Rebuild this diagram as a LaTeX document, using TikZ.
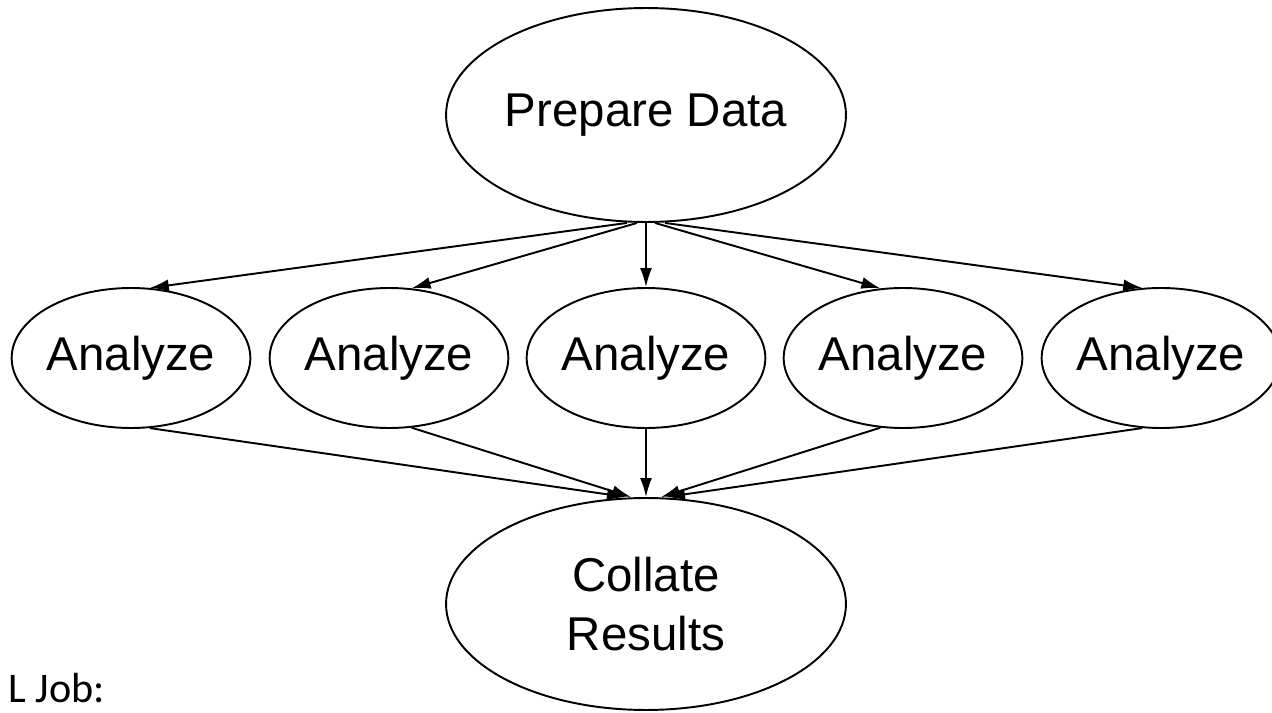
\documentclass[tikz,border=0pt]{standalone}
\usepackage{fontspec}
\setmainfont{Liberation Sans}
\newfontfamily\calibri{Carlito}
\usetikzlibrary{shapes.geometric,arrows.meta}

\begin{document}
\begin{tikzpicture}[x=0.02cm,y=-0.02cm]
\tikzstyle{fleche}=[-{Latex[length=0.38cm,width=0.24cm]},line width=1.1pt]
\tikzset{tache/.style={draw,ellipse,line width=1.1pt,inner sep=0pt,
  font=\fontsize{27}{34}\selectfont,align=center,minimum width=#1},
tache/.default={4.76cm}}
\useasboundingbox (0,0) rectangle (1272,713);

\node[tache=8cm,minimum height=4.28cm] (P) at (646,115) {Prepare Data};
\node[tache,minimum height=2.8cm] (A1) at (131,358) {Analyze};
\node[tache,minimum height=2.8cm] (A2) at (389,358) {Analyze};
\node[tache,minimum height=2.8cm] (A3) at (646,358) {Analyze};
\node[tache,minimum height=2.8cm] (A4) at (903,358) {Analyze};
\node[tache,minimum height=2.8cm] (A5) at (1161,358) {Analyze};
\node[tache=8cm,minimum height=4.24cm] (C) at (646,604) {Collate\\Results};

\draw[fleche] ([xshift=-0.38cm]P.south) -- (A1.75);
\draw[fleche] ([xshift=-0.18cm]P.south) -- (A2.72);
\draw[fleche] (P.south) -- (A3.north);
\draw[fleche] ([xshift=0.18cm]P.south) -- (A4.108);
\draw[fleche] ([xshift=0.38cm]P.south) -- (A5.105);

\draw[fleche] (A1.-75) -- ([xshift=-0.4cm]C.north);
\draw[fleche] (A2.-72) -- ([xshift=-0.3cm]C.north);
\draw[fleche] (A3.south) -- (C.north);
\draw[fleche] (A4.-108) -- ([xshift=0.3cm]C.north);
\draw[fleche] (A5.-105) -- ([xshift=0.4cm]C.north);

\node[anchor=base west,inner sep=0pt,font=\calibri\fontsize{24}{28}\selectfont] (J) at (8,702) {L Job:};
\end{tikzpicture}
\end{document}
